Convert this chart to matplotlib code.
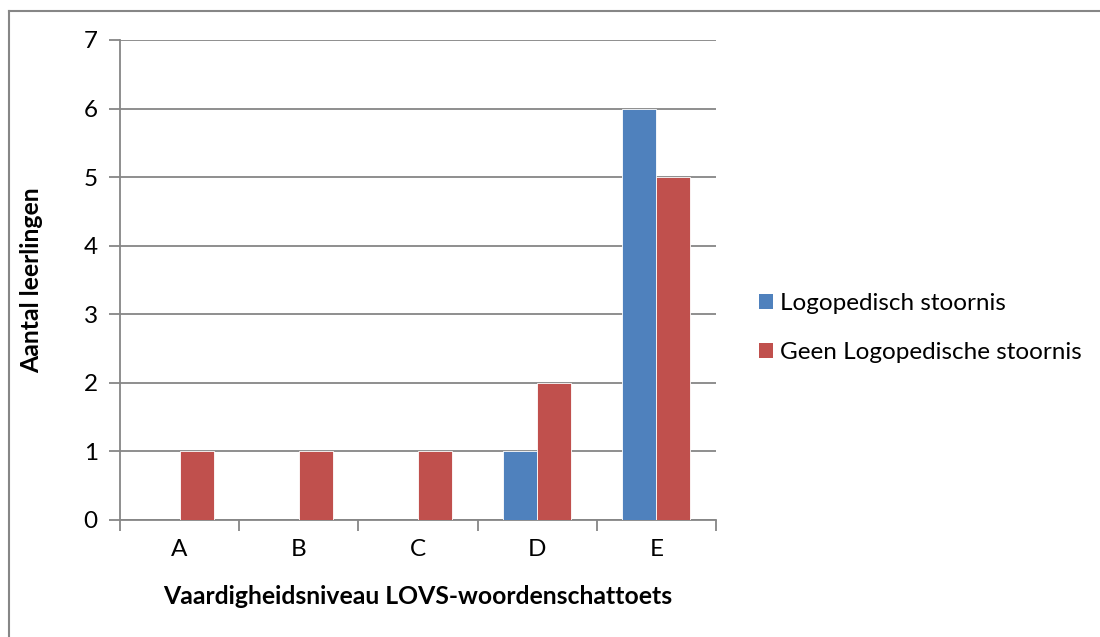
import matplotlib
matplotlib.use("Agg")
import matplotlib.pyplot as plt
import numpy as np
from matplotlib.patches import Patch
from matplotlib.lines import Line2D

plt.rcParams['font.family'] = ['Lato', 'DejaVu Sans']

categories = ['A', 'B', 'C', 'D', 'E']
series_names = ['Logopedisch stoornis', 'Geen Logopedische stoornis']
logopedisch = [0, 0, 0, 1, 6]
geen_logopedisch = [1, 1, 1, 2, 5]
y_ticks = [0, 1, 2, 3, 4, 5, 6, 7]
x_title = 'Vaardigheidsniveau LOVS-woordenschattoets'
y_title = 'Aantal leerlingen'

blue = '#4F81BD'
red = '#C0504D'
grey = '#868686'

fig = plt.figure(figsize=(11, 6.37), dpi=100)
ax = fig.add_axes([120 / 1100, 117 / 637, 596 / 1100, 480 / 637])

x = np.arange(len(categories))
w = 0.285
ax.bar(x - w / 2, logopedisch, width=w, color=blue, edgecolor='white', linewidth=0.6, zorder=3)
ax.bar(x + w / 2, geen_logopedisch, width=w, color=red, edgecolor='white', linewidth=0.6, zorder=3)

ax.set_xlim(-0.5, len(categories) - 0.5)
ax.set_ylim(0, 7)
ax.set_yticks(y_ticks)
ax.set_yticklabels([str(v) for v in y_ticks], fontsize=17.5)
ax.yaxis.grid(True, color=grey, linewidth=1.3, zorder=0)
ax.set_axisbelow(True)

ax.set_xticks(x)
ax.set_xticklabels(categories, fontsize=17.5)
ax.tick_params(axis='x', length=0, pad=14)
ax.set_xticks(np.arange(-0.5, len(categories)), minor=True)
ax.tick_params(axis='x', which='minor', length=8, width=1.3, color=grey, direction='out')
ax.tick_params(axis='y', length=8, width=1.3, color=grey, direction='out', pad=8)

for side in ['top', 'right']:
    ax.spines[side].set_visible(False)
for side in ['left', 'bottom']:
    ax.spines[side].set_color(grey)
    ax.spines[side].set_linewidth(1.3)

fig.text(418 / 1100, 1 - 597 / 637, x_title, ha='center', va='center',
         fontsize=17.8, fontweight='bold')
fig.text(32 / 1100, 1 - 280 / 637, y_title, ha='center', va='center',
         fontsize=17.8, fontweight='bold', rotation=90)

handles = [Patch(facecolor=blue, edgecolor='none'), Patch(facecolor=red, edgecolor='none')]
fig.legend(handles, series_names, loc='center left', bbox_to_anchor=(737 / 1100, 1 - 328 / 637),
           frameon=False, fontsize=17.5, handlelength=0.6, handleheight=0.6,
           handletextpad=0.25, labelspacing=1.15)

# chart frame: left and top edges
fig.add_artist(Line2D([8.5 / 1100, 8.5 / 1100], [0, 1 - 10.5 / 637], transform=fig.transFigure,
                      color=grey, linewidth=1.5))
fig.add_artist(Line2D([8.5 / 1100, 1], [1 - 10.5 / 637, 1 - 10.5 / 637], transform=fig.transFigure,
                      color=grey, linewidth=1.5))

fig.savefig('out.png', dpi=100, facecolor='white')
